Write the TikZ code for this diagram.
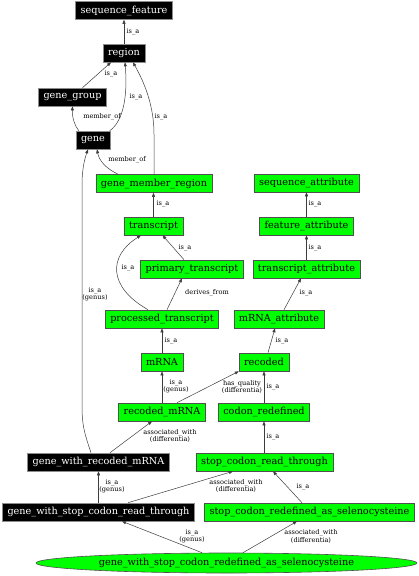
\documentclass[tikz,border=0pt]{standalone}
\usepackage{fontspec}
\newfontfamily\nodefnt{DejaVu Serif}
\usetikzlibrary{arrows.meta,shapes.geometric,calc}
\definecolor{boxgreen}{RGB}{0,255,0}
\definecolor{boxborder}{RGB}{80,80,80}
\definecolor{edgecol}{RGB}{60,60,60}
\begin{document}
\begin{tikzpicture}[x=1pt,y=-1pt,
  gbox/.style={draw=boxborder, fill=boxgreen, text=black, font={\nodefnt\fontsize{9.7}{11}\selectfont}, minimum height=18pt, inner xsep=5pt, inner ysep=0pt, line width=0.6pt},
  bbox/.style={gbox, fill=black, draw=black!45, text=white},
  lbl/.style={font={\nodefnt\fontsize{6.6}{7}\selectfont}, align=center, inner sep=0pt, text=black},
  edge/.style={-{Triangle[length=4pt,width=3pt]}, draw=edgecol, line width=0.5pt}]
\useasboundingbox (0,0) rectangle (419,576);
% nodes
\node[bbox] (seqf) at (124,10.5) {sequence\_feature};
\node[bbox] (region) at (124,53) {region};
\node[bbox] (ggroup) at (72.5,97) {gene\_group};
\node[bbox] (gene) at (93,140) {gene};
\node[gbox] (gmr) at (154,183.5) {gene\_member\_region};
\node[gbox] (seqattr) at (306.5,183) {sequence\_attribute};
\node[gbox] (transcript) at (153.5,226) {transcript};
\node[gbox] (featattr) at (306.5,226) {feature\_attribute};
\node[gbox] (primary) at (192,269) {primary\_transcript};
\node[gbox] (transattr) at (306.5,269) {transcript\_attribute};
\node[gbox] (processed) at (162,319) {processed\_transcript};
\node[gbox] (mrnaattr) at (279,319) {mRNA\_attribute};
\node[gbox] (mrna) at (162,362) {mRNA};
\node[gbox] (recoded) at (264,362) {recoded};
\node[gbox] (recmrna) at (162,412) {recoded\_mRNA};
\node[gbox] (codon) at (264,412) {codon\_redefined};
\node[bbox] (gwrm) at (98.5,462) {gene\_with\_recoded\_mRNA};
\node[gbox] (scrt) at (264.5,462) {stop\_codon\_read\_through};
\node[bbox] (gwscrt) at (98.5,512) {gene\_with\_stop\_codon\_read\_through};
\node[gbox] (scras) at (309.5,512) {stop\_codon\_redefined\_as\_selenocysteine};
\node[gbox, ellipse, minimum width=381pt, minimum height=20pt, inner sep=0pt] (ell) at (226.5,563) {gene\_with\_stop\_codon\_redefined\_as\_selenocysteine};
% edges
\draw[edge] (region) -- (seqf);
\draw[edge] ([xshift=10pt]ggroup.north) -- ([xshift=-13pt]region.south);
\draw[edge] ([xshift=-0.5pt]gene.north east) .. controls (122,122) and (128,100) .. ([xshift=1pt]region.south);
\draw[edge] ([xshift=3pt]gene.north west) .. controls (75,126) and (72,118) .. (ggroup.south);
\draw[edge] (gmr.north) -- ($(gmr.north)+(0,-40)$) .. controls (154,100) and (140,75) .. ([xshift=9pt]region.south);
\draw[edge] ([xshift=-36pt]gmr.north) .. controls (105,168) and (99,160) .. ([xshift=4pt]gene.south);
\draw[edge] (transcript) -- (transcript |- gmr.south);
\draw[edge] ([xshift=-8pt]primary.north) -- ([xshift=9pt]transcript.south);
\draw[edge] ([xshift=-14pt]processed.north) .. controls (108,287) and (108,256) .. ([xshift=-12.5pt]transcript.south);
\draw[edge] ([xshift=5pt]processed.north) -- ([xshift=-10pt]primary.south);
\draw[edge] (mrna) -- (processed);
\draw[edge] (recmrna) -- (mrna);
\draw[edge] ([xshift=15pt]recmrna.north) -- (recoded.south west);
\draw[edge] ([xshift=4pt]recoded.north) -- ([xshift=-4pt]mrnaattr.south);
\draw[edge] ([xshift=5pt]mrnaattr.north) -- ([xshift=-5.5pt]transattr.south);
\draw[edge] (transattr) -- (featattr);
\draw[edge] (featattr) -- (seqattr);
\draw[edge] (codon) -- (recoded);
\draw[edge] (scrt.north -| codon) -- (codon);
\draw[edge] ([xshift=-7.5pt]gwrm.north) .. controls (84,432) and (82,425) .. (82,405) -- (82,185) .. controls (82,168) and (85,158) .. ([xshift=-5pt]gene.south);
\draw[edge] ([xshift=11.5pt]gwrm.north) -- ([xshift=-10pt]recmrna.south);
\draw[edge] (gwscrt) -- (gwrm);
\draw[edge] ([xshift=29.5pt]gwscrt.north) -- ([xshift=-31.5pt]scrt.south);
\draw[edge] ([xshift=-7.5pt]scras.north) -- ([xshift=8.5pt]scrt.south);
\draw[edge] ([xshift=-24.5pt]ell.north) -- ([xshift=23.5pt]gwscrt.south);
\draw[edge] ([xshift=16.5pt]ell.north) -- ([xshift=-12.5pt]scras.south);
% labels
\node[lbl] (l1) at (133,32) {is\_a};
\node[lbl] (l2) at (111,74) {is\_a};
\node[lbl] (l3) at (136,97) {is\_a};
\node[lbl] (l4) at (102,117) {member\_of};
\node[lbl] (l5) at (161,117) {is\_a};
\node[lbl] (l6) at (127,160) {member\_of};
\node[lbl] (l7) at (163,204) {is\_a};
\node[lbl] (l8) at (185,248) {is\_a};
\node[lbl] (l9) at (128,268) {is\_a};
\node[lbl] (l10) at (207,293) {derives\_from};
\node[lbl] (l11) at (171,341) {is\_a};
\node[lbl] (l12) at (176,386.5) {is\_a\\(genus)};
\node[lbl] (l13) at (242,387) {has\_quality\\(differentia)};
\node[lbl] (l14) at (282,341) {is\_a};
\node[lbl] (l15) at (306,293) {is\_a};
\node[lbl] (l16) at (315,248) {is\_a};
\node[lbl] (l17) at (315,204) {is\_a};
\node[lbl] (l18) at (273,387) {is\_a};
\node[lbl] (l19) at (273,437) {is\_a};
\node[lbl] (l20) at (95,294) {is\_a\\(genus)};
\node[lbl] (l21) at (170,436) {associated\_with\\(differentia)};
\node[lbl] (l22) at (112,486.5) {is\_a\\(genus)};
\node[lbl] (l23) at (236,486) {associated\_with\\(differentia)};
\node[lbl] (l24) at (303,487) {is\_a};
\node[lbl] (l25) at (192,536.5) {is\_a\\(genus)};
\node[lbl] (l26) at (311,536.5) {associated\_with\\(differentia)};
\end{tikzpicture}
\end{document}
